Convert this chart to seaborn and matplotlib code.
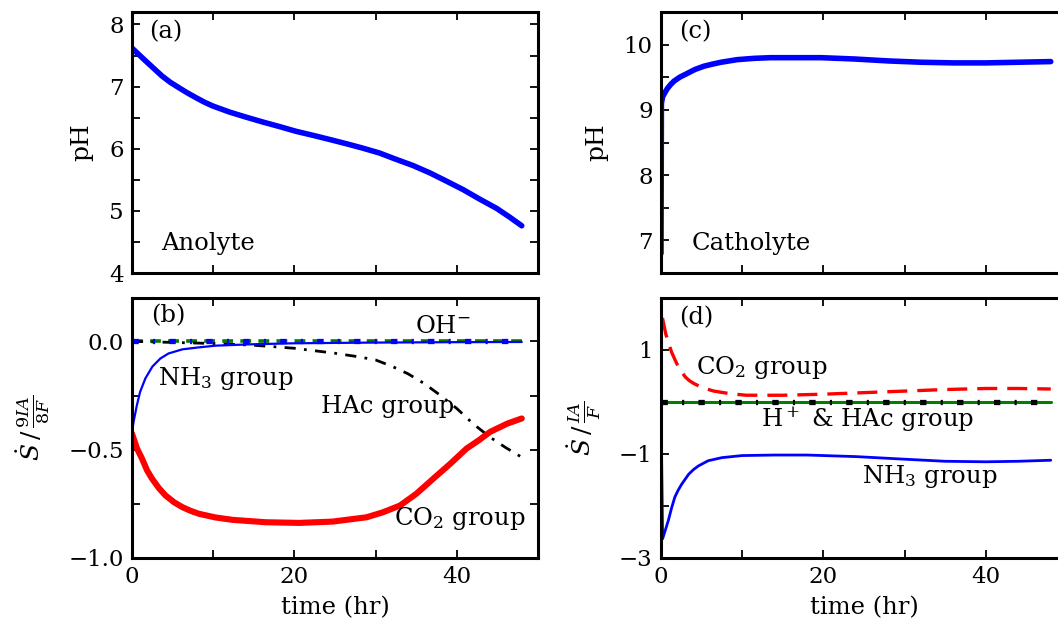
import numpy as np
import matplotlib
matplotlib.use("Agg")
import matplotlib.pyplot as plt
import seaborn as sns

# ---------------- data ----------------
# (a) anolyte pH
t_a = [0, 0.8, 1.7, 2.7, 3.7, 4.7, 5.8, 6.8, 7.9, 8.9, 9.9, 12, 14, 16.1, 18.2,
       20.2, 22.3, 24.3, 26.4, 28.4, 30.5, 32.5, 34.6, 36.7, 38.7, 40.8, 42.8,
       44.9, 46.5, 48]
ph_anolyte = [7.62, 7.52, 7.41, 7.29, 7.17, 7.07, 6.98, 6.90, 6.82, 6.75, 6.69,
              6.59, 6.51, 6.43, 6.355, 6.28, 6.215, 6.15, 6.08, 6.01, 5.93, 5.83,
              5.73, 5.61, 5.48, 5.34, 5.19, 5.04, 4.90, 4.76]

# (b) anolyte source terms
t_b_co2 = [0, 0.62, 1.24, 1.86, 2.47, 3.3, 4.12, 5.15, 6.19, 7.2, 8.25, 10.3, 12.4,
           16.5, 20.6, 24.7, 28.9, 30.9, 33, 35, 37.1, 39.2, 41.2, 42.7, 44.1, 46.2,
           48]
co2_b = [-0.426, -0.495, -0.542, -0.596, -0.634, -0.677, -0.711, -0.742, -0.765,
         -0.782, -0.796, -0.813, -0.824, -0.835, -0.838, -0.832, -0.812, -0.789,
         -0.758, -0.704, -0.634, -0.565, -0.495, -0.457, -0.418, -0.380, -0.356]
t_b_nh3 = [0, 0.2, 0.6, 1.0, 1.65, 2.5, 3.5, 4.5, 6.2, 8.2, 10.3, 14.4, 20, 28.9,
           39, 48]
nh3_b = [-0.418, -0.37, -0.295, -0.233, -0.171, -0.117, -0.079, -0.056, -0.037,
         -0.028, -0.020, -0.014, -0.009, -0.006, -0.004, -0.003]
t_b_hac = [0, 5, 10, 15, 20, 25, 28, 30, 32, 34, 36, 38, 40, 42, 44, 46, 48]
hac_b = [0, -0.005, -0.01, -0.018, -0.032, -0.055, -0.072, -0.086, -0.115, -0.15,
         -0.195, -0.25, -0.31, -0.38, -0.44, -0.49, -0.535]
t_b_flat = [0, 48]
oh_b = [0.0, 0.0]
h_b = [0.0, 0.0]

# (c) catholyte pH
t_c = [0, 0.05, 0.2, 0.5, 0.8, 1.2, 1.6, 2.3, 3.25, 4.2, 5.3, 6.3, 7.4, 8.4, 9.4,
       11.5, 13.5, 15.6, 19.7, 23.8, 28, 32, 36, 40, 44, 48]
ph_catholyte = [6.8, 9.1, 9.2, 9.27, 9.33, 9.39, 9.44, 9.50, 9.56, 9.62, 9.67, 9.70,
                9.73, 9.75, 9.77, 9.79, 9.80, 9.80, 9.80, 9.78, 9.75, 9.73, 9.72,
                9.72, 9.73, 9.74]

# (d) catholyte source terms
t_d_co2 = [0, 0.05, 0.2, 0.6, 1.0, 1.3, 1.7, 2.0, 2.5, 3.0, 3.5, 4.0, 5.0, 6.5, 8.5,
           10.5, 15, 20, 25, 30, 35, 40, 44, 48]
co2_d = [-1.0, 1.75, 1.6, 1.3, 1.1, 0.96, 0.82, 0.72, 0.59, 0.48, 0.41, 0.36, 0.28,
         0.21, 0.16, 0.13, 0.13, 0.15, 0.18, 0.21, 0.24, 0.26, 0.26, 0.25]
t_d_nh3 = [0, 0.2, 0.5, 0.9, 1.3, 1.7, 2.1, 2.55, 3.0, 3.4, 4.0, 4.6, 5.8, 7.5, 10,
           14, 18, 24, 30, 35, 40, 44, 48]
nh3_d = [-0.1, -2.63, -2.48, -2.28, -2.04, -1.83, -1.70, -1.58, -1.48, -1.39, -1.30,
         -1.23, -1.13, -1.07, -1.03, -1.02, -1.02, -1.05, -1.10, -1.14, -1.15, -1.14,
         -1.12]
t_d_flat = [0, 48]
h_hac_d = [0.0, 0.0]
green_d = [0.0, 0.0]

# ---------------- style ----------------
sns.set_style("ticks")
plt.rcParams.update({
    "font.family": ["DejaVu Serif"],
    "mathtext.fontset": "dejavuserif",
    "font.size": 17,
    "text.color": "black",
    "axes.labelcolor": "black",
    "axes.linewidth": 2.2,
    "axes.edgecolor": "black",
    "xtick.direction": "in",
    "ytick.direction": "in",
    "xtick.top": True,
    "ytick.right": True,
    "xtick.color": "black",
    "ytick.color": "black",
    "xtick.labelcolor": "black",
    "ytick.labelcolor": "black",
    "xtick.labelsize": 16.5,
    "ytick.labelsize": 16.5,
    "axes.labelsize": 17.5,
})

fig = plt.figure(figsize=(10.58, 6.29), dpi=100)
W, H = 1058.0, 629.0
axw = 406 / W


def make_ax(left_px, top_px, bottom_px):
    return fig.add_axes([left_px / W, 1 - bottom_px / H, axw,
                         (bottom_px - top_px) / H])


ax_a = make_ax(132, 12, 273)
ax_b = make_ax(132, 298, 558)
ax_c = make_ax(661, 12, 273)
ax_d = make_ax(661, 298, 558)

for ax in (ax_a, ax_b, ax_c, ax_d):
    ax.set_xlim(0, 50)
    ax.set_xticks([0, 20, 40])
    ax.set_xticks([10, 30, 50], minor=True)
    ax.tick_params(which="both", length=6, width=1.3, pad=6,
                   top=True, right=True, direction="in",
                   colors="black", labelcolor="black")
    for s in ax.spines.values():
        s.set_linewidth(2.2)
        s.set_color("black")

for ax in (ax_a, ax_c):
    ax.tick_params(labelbottom=False)
for ax in (ax_b, ax_d):
    ax.set_xlabel("time (hr)", labelpad=6, color="black")

kw = dict(estimator=None, sort=False, legend=False)
FS = 17.5
FL = 17.5
TC = "black"

# (a)
sns.lineplot(x=t_a, y=ph_anolyte, ax=ax_a, color="#0000ff", linewidth=4.0, **kw)
ax_a.set_ylim(4, 8.2)
ax_a.set_yticks([4, 5, 6, 7, 8])
ax_a.set_yticks([4.5, 5.5, 6.5, 7.5], minor=True)
ax_a.set_ylabel("pH", fontsize=18, color=TC)
ax_a.yaxis.set_label_coords(-0.096, 0.5)
ax_a.text(2.1, 7.89, "(a)", fontsize=FL, ha="left", va="center", color=TC)
ax_a.text(3.6, 4.48, "Anolyte", fontsize=FS, ha="left", va="center", color=TC)

# (b)
dashdot_sq = (0, (1.2, 2.7, 0.4, 2.7))
sns.lineplot(x=t_b_flat, y=h_b, ax=ax_b, color="#008000", linewidth=2.6,
             linestyle=(0, (3, 2)), **kw)
sns.lineplot(x=t_b_hac, y=hac_b, ax=ax_b, color="black", linewidth=2.0,
             linestyle=(0, (4, 3, 1, 3)), **kw)
sns.lineplot(x=t_b_co2, y=co2_b, ax=ax_b, color="#ff0000", linewidth=4.4, **kw)
sns.lineplot(x=t_b_nh3, y=nh3_b, ax=ax_b, color="#0000ff", linewidth=1.6, **kw)
sns.lineplot(x=t_b_flat, y=oh_b, ax=ax_b, color="#0000ff", linewidth=3.8,
             linestyle=dashdot_sq, **kw)
ax_b.set_ylim(-1.0, 0.2)
ax_b.set_yticks([-1.0, -0.5, 0.0])
ax_b.set_yticks([-0.75, -0.25], minor=True)
ax_b.set_yticklabels(["\u22121.0", "\u22120.5", "0.0"])
ax_b.set_ylabel(r"$\dot{S}\,/\,\frac{9IA}{8F}$", fontsize=18, color=TC)
ax_b.yaxis.set_label_coords(-0.197, 0.5)
ax_b.text(2.3, 0.116, "(b)", fontsize=FL, ha="left", va="center", color=TC)
ax_b.text(34.8, 0.07, r"OH$^{-}$", fontsize=FS, ha="left", va="center", color=TC)
ax_b.text(3.2, -0.17, r"NH$_3$ group", fontsize=FS, ha="left", va="center", color=TC)
ax_b.text(23.3, -0.30, "HAc group", fontsize=FS, ha="left", va="center", color=TC)
ax_b.text(32.3, -0.82, r"CO$_2$ group", fontsize=FS, ha="left", va="center", color=TC)

# (c)
sns.lineplot(x=t_c, y=ph_catholyte, ax=ax_c, color="#0000ff", linewidth=4.0, **kw)
ax_c.set_ylim(6.5, 10.5)
ax_c.set_yticks([7, 8, 9, 10])
ax_c.set_yticks([7.5, 8.5, 9.5], minor=True)
ax_c.set_ylabel("pH", fontsize=18, color=TC)
ax_c.yaxis.set_label_coords(-0.13, 0.5)
ax_c.text(2.2, 10.2, "(c)", fontsize=FL, ha="left", va="center", color=TC)
ax_c.text(3.8, 6.95, "Catholyte", fontsize=FS, ha="left", va="center", color=TC)

# (d)
sns.lineplot(x=t_d_co2, y=co2_d, ax=ax_d, color="#ff0000", linewidth=2.4,
             linestyle=(0, (6, 3)), **kw)
sns.lineplot(x=t_d_nh3, y=nh3_d, ax=ax_d, color="#0000ff", linewidth=2.0, **kw)
sns.lineplot(x=t_d_flat, y=green_d, ax=ax_d, color="#008000", linewidth=2.2, **kw)
sns.lineplot(x=t_d_flat, y=h_hac_d, ax=ax_d, color="black", linewidth=3.8,
             linestyle=dashdot_sq, **kw)
ax_d.set_ylim(-3, 2)
ax_d.set_yticks([-3, -1, 1])
ax_d.set_yticks([-2, 0], minor=True)
ax_d.set_yticklabels(["\u22123", "\u22121", "1"])
ax_d.set_ylabel(r"$\dot{S}\,/\,\frac{IA}{F}$", fontsize=18, color=TC)
ax_d.yaxis.set_label_coords(-0.143, 0.5)
ax_d.text(2.2, 1.63, "(d)", fontsize=FL, ha="left", va="center", color=TC)
ax_d.text(4.3, 0.67, r"CO$_2$ group", fontsize=FS, ha="left", va="center", color=TC)
ax_d.text(12.3, -0.33, r"H$^+$ & HAc group", fontsize=FS, ha="left", va="center",
          color=TC)
ax_d.text(24.8, -1.44, r"NH$_3$ group", fontsize=FS, ha="left", va="center", color=TC)

fig.savefig("out.png", dpi=100)
